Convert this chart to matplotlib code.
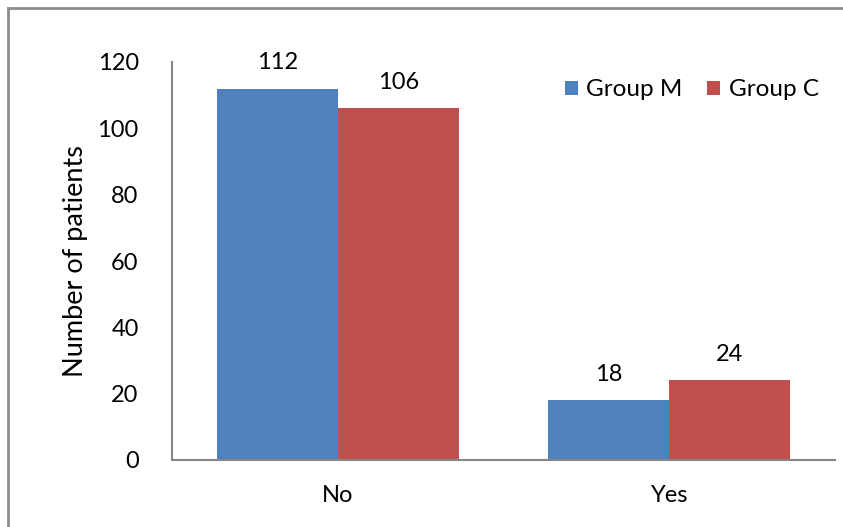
import matplotlib
matplotlib.use("Agg")
import matplotlib.pyplot as plt
from matplotlib.lines import Line2D
import numpy as np

categories = ["No", "Yes"]
group_m = [112, 18]
group_c = [106, 24]
series_names = ["Group M", "Group C"]
y_ticks = [0, 20, 40, 60, 80, 100, 120]

BLUE = "#4F81BD"
RED = "#C0504D"
AXIS_GRAY = "#868686"

plt.rcParams["font.family"] = ["Lato", "DejaVu Sans"]
FS = 17

fig = plt.figure(figsize=(8.43, 5.27), dpi=100)
ax = fig.add_axes([172 / 843, 67 / 527, (835 - 172) / 843, (460 - 62) / 527])

x = np.arange(len(categories))
w = 0.365
bars_m = ax.bar(x - w / 2, group_m, width=w, color=BLUE, label=series_names[0])
bars_c = ax.bar(x + w / 2, group_c, width=w, color=RED, label=series_names[1])
ax.bar_label(bars_m, padding=11, fontsize=FS, color="#000000")
ax.bar_label(bars_c, padding=11, fontsize=FS, color="#000000")

ax.set_xlim(-0.5, 1.5)
ax.set_ylim(0, 120)
ax.set_yticks(y_ticks)
ax.set_xticks(x)
ax.set_xticklabels(categories)
ax.tick_params(axis="both", length=0, labelsize=FS, colors="#000000")
ax.tick_params(axis="y", pad=24)
ax.tick_params(axis="x", pad=18)

for side in ("top", "right"):
    ax.spines[side].set_visible(False)
for side in ("left", "bottom"):
    ax.spines[side].set_color(AXIS_GRAY)
    ax.spines[side].set_linewidth(1.5)

ax.set_ylabel("Number of patients", fontsize=19.5, labelpad=7)

ax.legend(loc="center right", bbox_to_anchor=((819 - 172) / 663, (460 - 90) / 398),
          ncol=2, frameon=False, fontsize=17.5, handlelength=0.55, handleheight=0.55,
          handletextpad=0.35, columnspacing=1.0, borderaxespad=0, borderpad=0)

# Frame lines along the top and left edges of the figure
fig.add_artist(Line2D([8 / 843, 1.0], [1 - 8 / 527, 1 - 8 / 527],
                      transform=fig.transFigure, color="#8C8C8C", linewidth=2))
fig.add_artist(Line2D([8 / 843, 8 / 843], [0, 1 - 8 / 527],
                      transform=fig.transFigure, color="#8C8C8C", linewidth=2))

fig.savefig("out.png", dpi=100)
